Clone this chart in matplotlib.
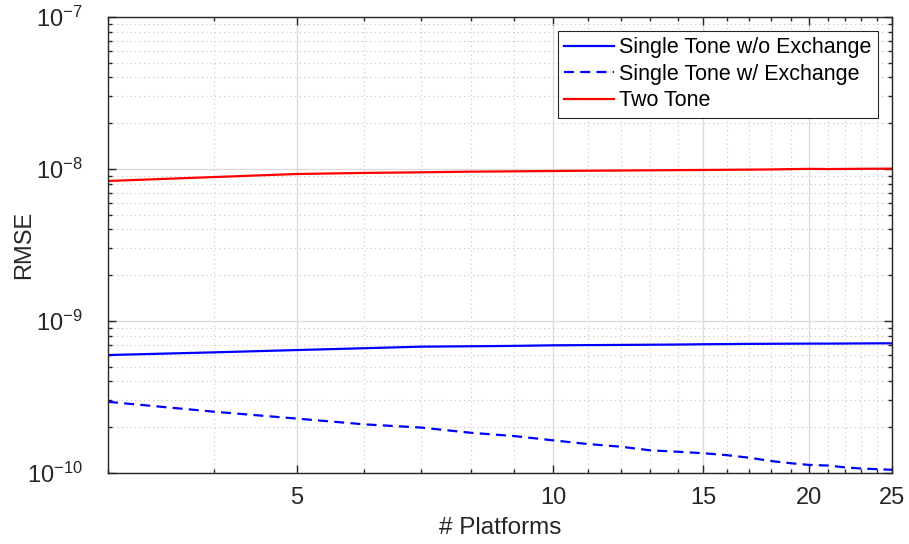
import numpy as np
import matplotlib
matplotlib.use("Agg")
import matplotlib.pyplot as plt
from matplotlib.ticker import FixedLocator, NullFormatter, LogLocator

plt.rcParams['font.family'] = ['Liberation Sans', 'DejaVu Sans']
plt.rcParams['mathtext.fontset'] = 'custom'
plt.rcParams['mathtext.rm'] = 'Liberation Sans'

# number of platforms
platforms = np.arange(3, 26)

# RMSE per method
rmse_single_no_exch = np.array([5.97, 6.22, 6.44, 6.62, 6.78, 6.82, 6.86, 6.92, 6.94, 6.96,
                                6.98, 7.00, 7.03, 7.05, 7.07, 7.08, 7.09, 7.10, 7.10, 7.11,
                                7.12, 7.13, 7.13]) * 1e-10
rmse_single_exch = np.array([2.94, 2.53, 2.28, 2.09, 1.99, 1.84, 1.75, 1.64, 1.55, 1.49,
                             1.41, 1.38, 1.35, 1.31, 1.26, 1.20, 1.16, 1.13, 1.12, 1.09,
                             1.07, 1.06, 1.05]) * 1e-10
rmse_two_tone = np.array([8.34, 8.85, 9.27, 9.42, 9.51, 9.60, 9.65, 9.70, 9.74, 9.77,
                          9.80, 9.83, 9.85, 9.88, 9.90, 9.93, 9.98, 10.02, 9.99, 10.01,
                          10.03, 10.04, 10.05]) * 1e-9

xticks_major = [5, 10, 15, 20, 25]

fig = plt.figure(figsize=(9.09, 5.44), dpi=100)
ax = fig.add_axes([0.1188, 0.1305, 0.8625, 0.8383])

ax.plot(platforms, rmse_single_no_exch, color=(0, 0, 1), lw=1.6, label='Single Tone w/o Exchange')
ax.plot(platforms, rmse_single_exch, color=(0, 0, 1), lw=1.6, dashes=(4.5, 2.8),
        label='Single Tone w/ Exchange')
ax.plot(platforms, rmse_two_tone, color=(1, 0, 0), lw=1.6, label='Two Tone')

ax.set_xscale('log')
ax.set_yscale('log')
ax.set_xlim(3, 25)
ax.set_ylim(1e-10, 1e-7)

ax.xaxis.set_major_locator(FixedLocator(xticks_major))
ax.set_xticklabels([str(t) for t in xticks_major])
minor_x = [v for v in range(3, 26) if v not in xticks_major]
ax.xaxis.set_minor_locator(FixedLocator(minor_x))
ax.xaxis.set_minor_formatter(NullFormatter())
ax.yaxis.set_major_locator(LogLocator(base=10, numticks=10))
ax.yaxis.set_minor_locator(LogLocator(base=10, subs=np.arange(2, 10), numticks=20))
ax.yaxis.set_minor_formatter(NullFormatter())

ax.grid(True, which='major', color='#dcdcdc', lw=1.0, ls='-')
ax.grid(True, which='minor', color='#c4c4c4', lw=0.8, ls=(0, (1, 3)))
ax.set_axisbelow(True)

ax.tick_params(which='both', direction='in', top=True, right=True, colors='#262626',
               labelcolor='#262626', labelsize=17, width=1.0)
ax.tick_params(axis='x', which='major', length=6, pad=10)
ax.tick_params(axis='y', which='major', length=6, pad=18)
ax.tick_params(which='minor', length=3)
for s in ax.spines.values():
    s.set_color('#262626')
    s.set_linewidth(1.0)

ax.set_xlabel('# Platforms', fontsize=17.5, color='#262626', labelpad=6)
ax.set_ylabel('RMSE', fontsize=17, color='#262626')
ax.yaxis.set_label_coords(-0.093, 0.5)

leg = ax.legend(loc='upper right', fontsize=15.5, fancybox=False, framealpha=1,
                edgecolor='#262626', handlelength=2.3, handletextpad=0.25,
                borderaxespad=0.65, labelspacing=0.25, borderpad=0.3)
leg.get_frame().set_linewidth(0.8)

fig.savefig('out.png', dpi=100)
